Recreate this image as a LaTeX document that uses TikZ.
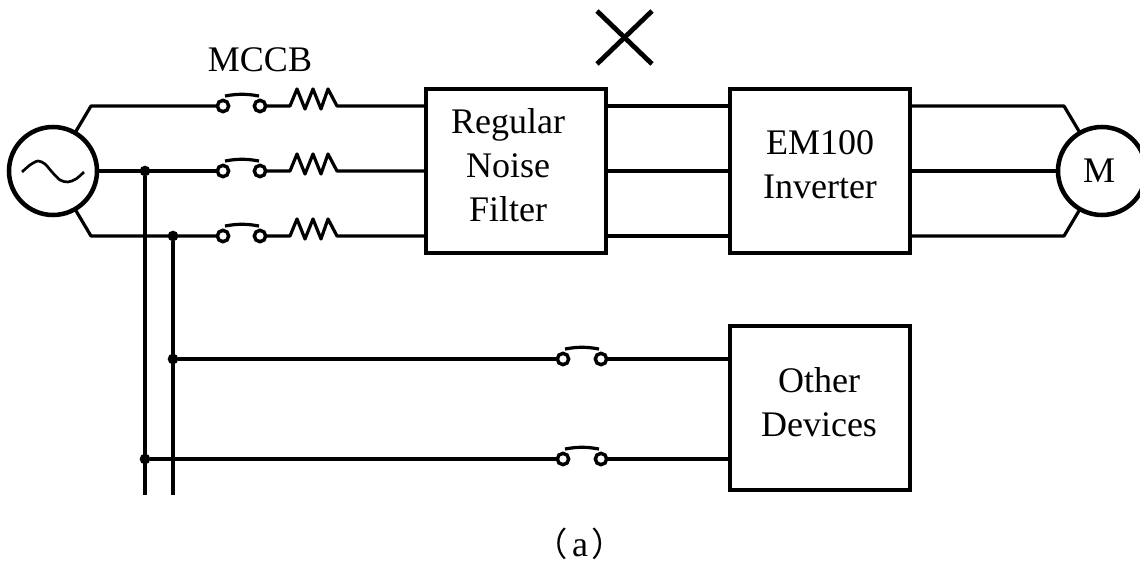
\documentclass[tikz,border=0pt]{standalone}
\usepackage{fontspec}
\setmainfont{Liberation Serif}
\newfontfamily\cjk{Noto Sans CJK SC}
\usetikzlibrary{positioning}

\begin{document}
\begin{tikzpicture}[x=.75pt, y=-.75pt,
wire/.style = {line width = 2.4pt, line join = round},
device/.style = {rectangle, draw, line width = 2.8pt, minimum width = 135pt, minimum height = 123pt, outer sep = 0pt},
machine/.style = {circle, draw, line width = 3.4pt, minimum size = 66pt, inner sep = 0pt, outer sep = 0pt, font = \fontsize{27}{32}\selectfont},
contact/.style = {circle, draw, fill = white, line width = 2.6pt, minimum size = 8.5pt, inner sep = 0pt, outer sep = 0pt},
joint/.style = {circle, fill = black, minimum size = 8pt, inner sep = 0pt, outer sep = 0pt},
label/.style = {inner sep = 0pt, align = center, font = \fontsize{27}{33}\selectfont},
zigzag/.style = {to path = {-- ++(30,0) -- ++(7,-17) -- ++(8,20) -- ++(8,-20) -- ++(8,20) -- ++(7,-20) -- ++(9,17) -- (\tikztotarget)}}]

\useasboundingbox (0,0) rectangle (1140,566);

\node[machine] (source) at (53,171) {};
\node[machine] (motor) at (1102,171) {M\kern4.5pt};

\node[device] (filter) at (516,171) {};
\node[device, right = 93pt of filter] (inverter) {};
\node[device, below = 54.75pt of inverter] (other) {};

\node[label] (filtertext) at ([shift={(-8,-6)}]filter) {Regular\\Noise\\Filter};
\node[label] (invertertext) at ([shift={(0,-6)}]inverter) {EM100\\Inverter};
\node[label] (othertext) at ([shift={(-1,-6)}]other) {Other\\Devices};

\node[contact] (in1) at (223,106) {};
\node[contact] (in2) at (223,171) {};
\node[contact] (in3) at (223,236) {};
\node[contact] (out1) at (260,106) {};
\node[contact] (out2) at (260,171) {};
\node[contact] (out3) at (260,236) {};
\node[contact] (in4) at (563,359) {};
\node[contact] (in5) at (563,459) {};
\node[contact] (out4) at (601,359) {};
\node[contact] (out5) at (601,459) {};

\node[joint] (tap2) at (145,171) {};
\node[joint] (tap3) at (173,236) {};
\node[joint] (tap4) at (173,359) {};
\node[joint] (tap5) at (145,459) {};

\coordinate (srcbend1) at (91,106);
\coordinate (srcbend3) at (91,236);
\coordinate (mtrbend1) at (1064,106);
\coordinate (mtrbend3) at (1064,236);
\coordinate (end1) at (145,495);
\coordinate (end2) at (173,495);
\coordinate (cross1) at (597,11);
\coordinate (cross2) at (652,64);
\coordinate (cross3) at (652,11);
\coordinate (cross4) at (597,64);

\node[label] (mccb) at (260,60) {MCCB};
\node[label, anchor = base] (caption) at (580,557) {{\cjk\fontsize{25}{30}\selectfont （}\kern3pt a\kern3pt{\cjk\fontsize{25}{30}\selectfont ）}};

\draw[wire] (source.60)--(srcbend1)--(in1);
\draw[wire] (source)--(in2);
\draw[wire] (source.-60)--(srcbend3)--(in3);

\draw[wire] (out1) to[zigzag] (filter.west |- out1);
\draw[wire] (out2) to[zigzag] (filter.west |- out2);
\draw[wire] (out3) to[zigzag] (filter.west |- out3);

\draw[wire] (in1.center)++(2,-10) to[bend left=10] ++(34,0);
\draw[wire] (in2.center)++(2,-10) to[bend left=10] ++(34,0);
\draw[wire] (in3.center)++(2,-10) to[bend left=10] ++(34,0);
\draw[wire] (in4.center)++(2,-10) to[bend left=10] ++(34,0);
\draw[wire] (in5.center)++(2,-10) to[bend left=10] ++(34,0);

\draw[wire] (filter.east |- out1)--(inverter.west |- out1);
\draw[wire] (filter.east |- out2)--(inverter.west |- out2);
\draw[wire] (filter.east |- out3)--(inverter.west |- out3);

\draw[wire] (inverter.east |- out1)--(mtrbend1)--(motor.120);
\draw[wire] (inverter.east |- out2)--(motor.west);
\draw[wire] (inverter.east |- out3)--(mtrbend3)--(motor.-120);

\draw[wire] (tap2)--(end1);
\draw[wire] (tap3)--(end2);
\draw[wire] (tap4)--(in4);
\draw[wire] (tap5)--(in5);
\draw[wire] (out4)--(other.west |- out4);
\draw[wire] (out5)--(other.west |- out5);

\draw[line width = 3.6pt] (cross1)--(cross2);
\draw[line width = 3.6pt] (cross3)--(cross4);

\draw[line width = 2pt] plot[smooth] coordinates {(22,172) (30,165) (38,161) (45,164) (52,172) (60,180) (68,182) (76,179) (84,172)};
\end{tikzpicture}
\end{document}
